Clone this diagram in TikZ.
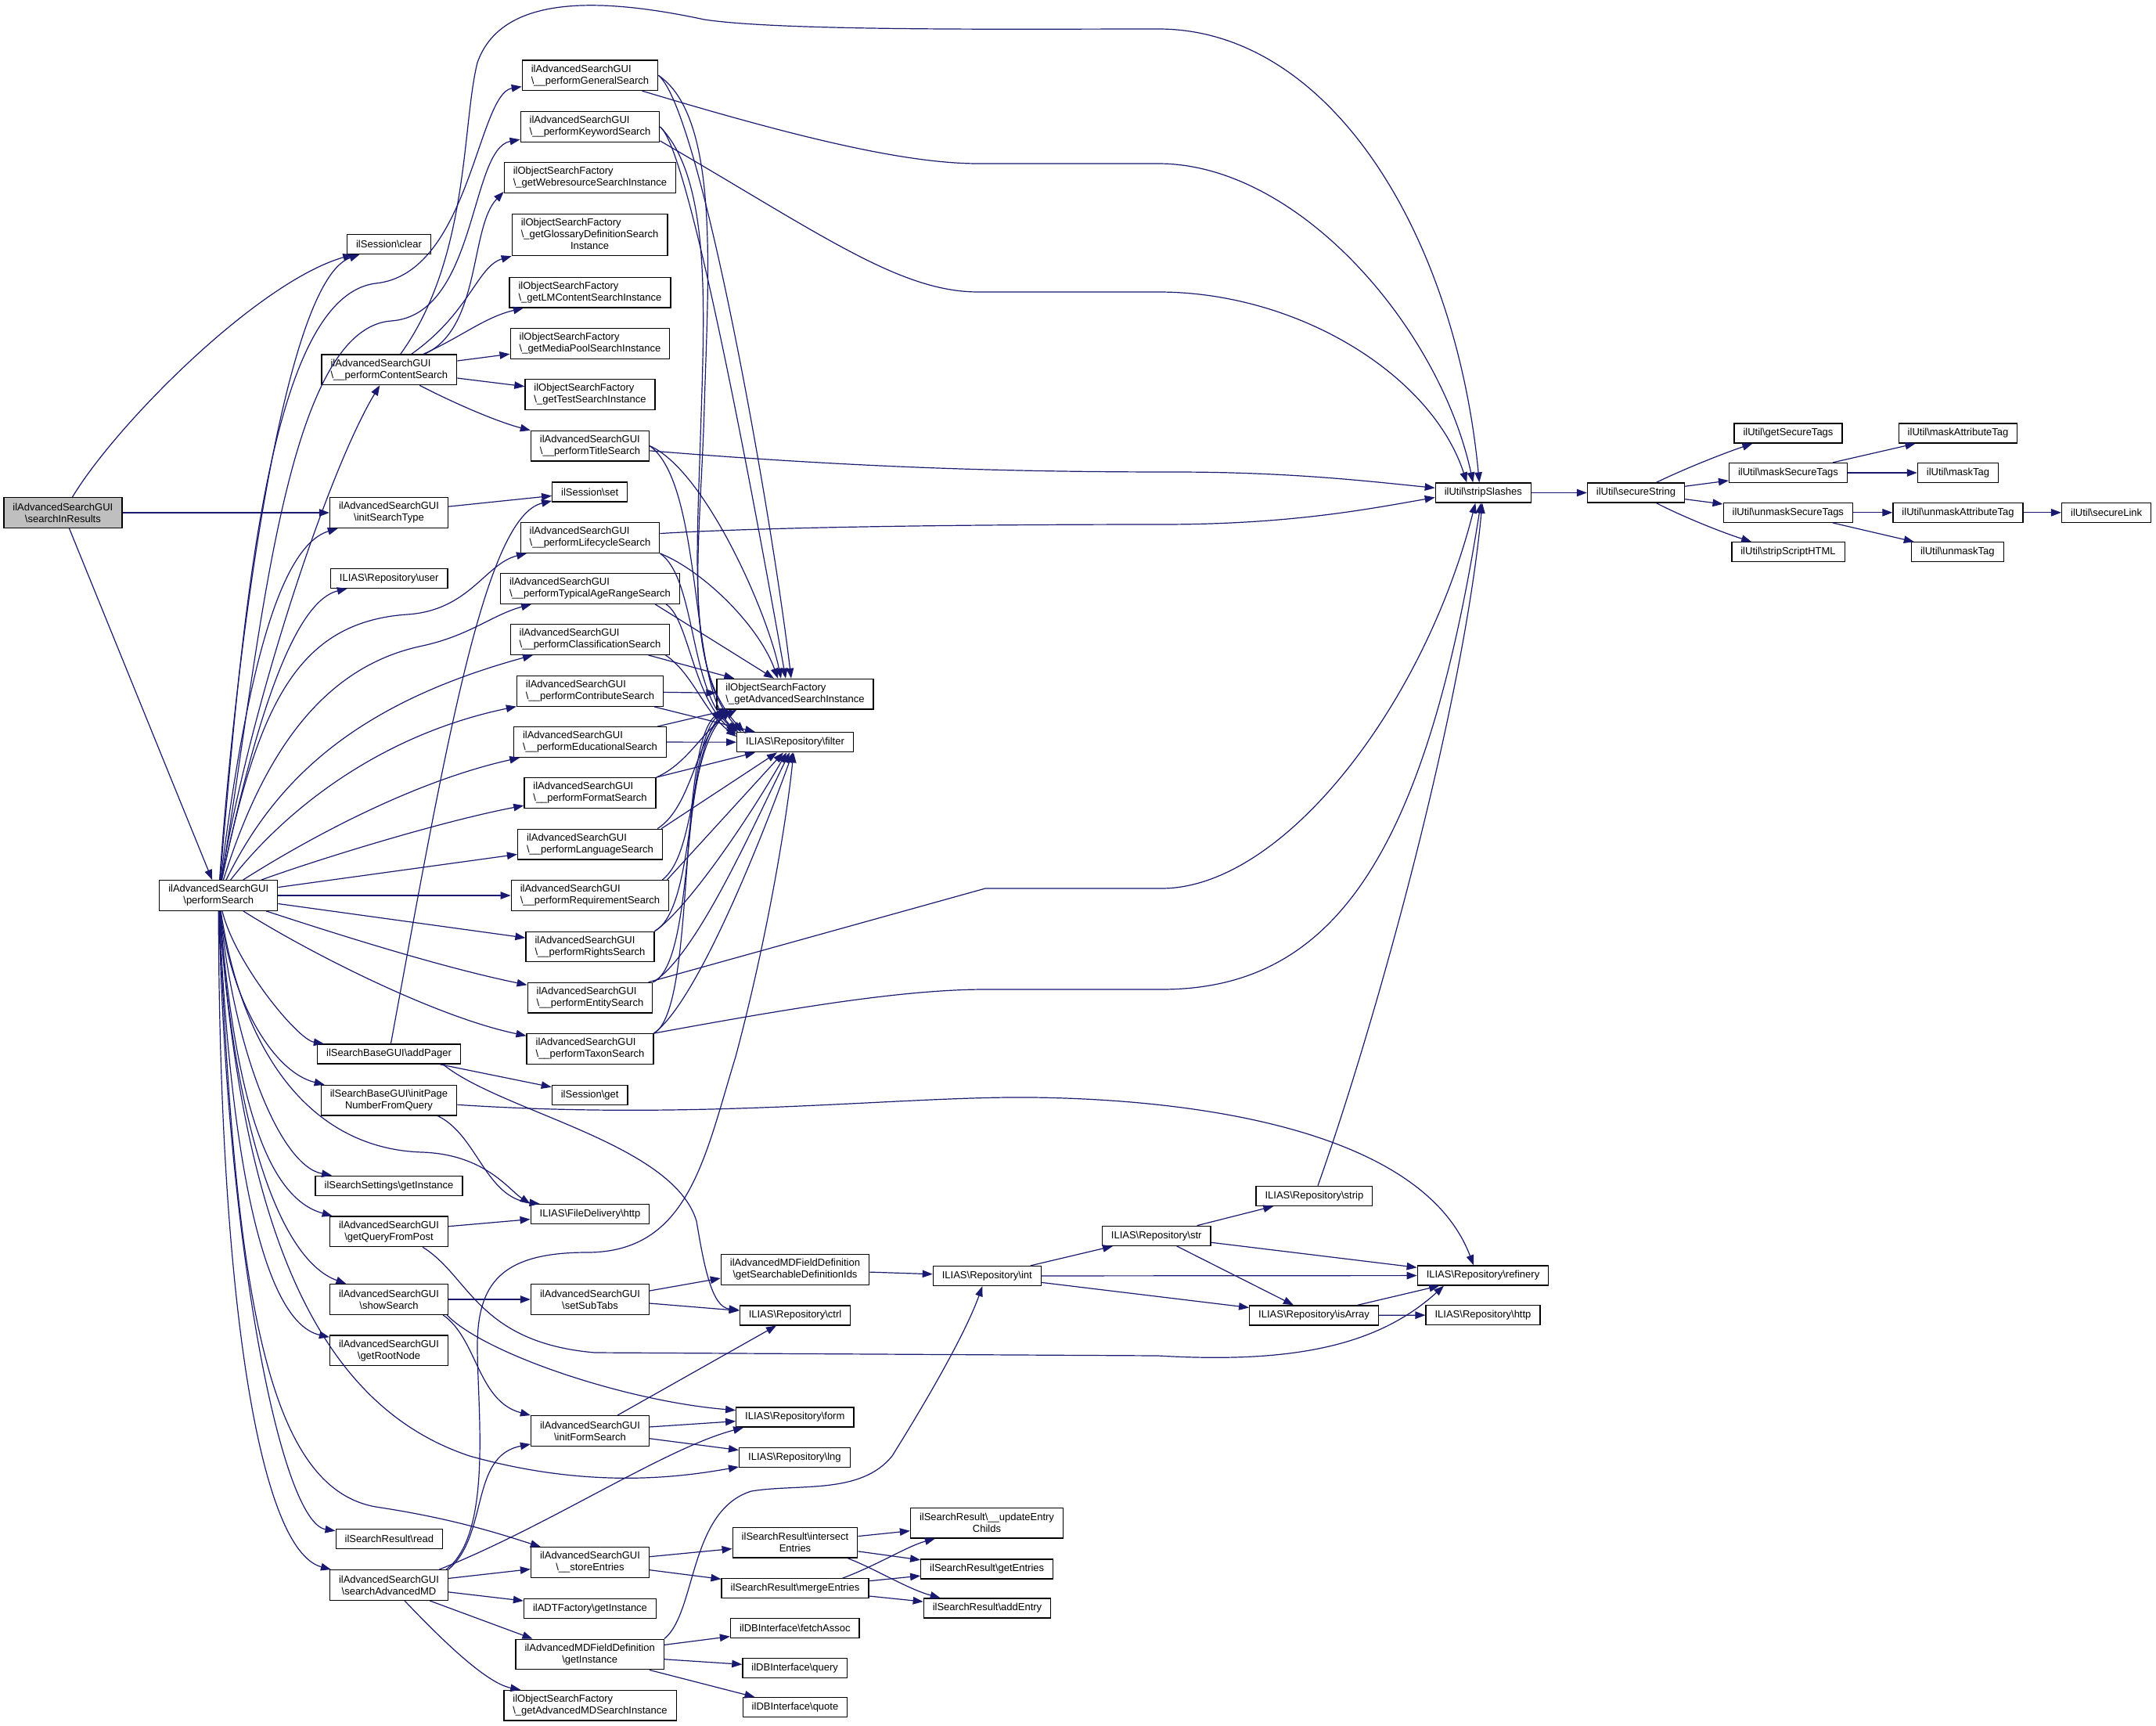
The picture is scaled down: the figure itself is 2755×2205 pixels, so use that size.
\documentclass[tikz,border=0pt]{standalone}
\usepackage{fontspec}
\setmainfont{Liberation Sans}
\usetikzlibrary{arrows.meta}
\definecolor{edgeblue}{HTML}{191970}
\definecolor{rootgray}{HTML}{BFBFBF}
\newcommand{\bsl}{\textbackslash}
\tikzset{
  fn/.style={draw=black, line width=1.3pt, fill=white, text=black, inner xsep=11.5pt, inner ysep=2pt,
    minimum height=25pt, font=\fontsize{13}{15}\selectfont},
  fnroot/.style={fn, fill=rootgray},
  twol/.style={minimum height=38.6pt},
  calls/.style={draw=edgeblue, line width=1.2pt, -{Triangle[length=13pt,width=9.5pt]}}
}
\begin{document}
\begin{tikzpicture}[x=1pt, y=-1pt]
\useasboundingbox (0,0) rectangle (2755,2205);
\fill[white] (0,0) rectangle (2755,2205);

\node[fnroot, twol, align=center] (root) at (80.4,655) {ilAdvancedSearchGUI\\\bsl searchInResults};
\node[fn, twol, align=center] (perfSearch) at (279.2,1144) {ilAdvancedSearchGUI\\\bsl performSearch};

\node[fn] (sessClear) at (497,312) {ilSession\bsl clear};
\node[fn, twol, align=left] (contentSrch) at (497.4,472.3) {ilAdvancedSearchGUI\\\bsl\_\_performContentSearch};
\node[fn, twol, align=center] (initType) at (497,655) {ilAdvancedSearchGUI\\\bsl initSearchType};
\node[fn] (repoUser) at (497.2,738.7) {ILIAS\bsl Repository\bsl user};
\node[fn] (addPager) at (497,1346.5) {ilSearchBaseGUI\bsl addPager};
\node[fn, twol, align=center] (initPage) at (497,1405.6) {ilSearchBaseGUI\bsl initPage\\NumberFromQuery};
\node[fn] (srchSettings) at (497,1514.7) {ilSearchSettings\bsl getInstance};
\node[fn, twol, align=center] (queryPost) at (497,1573.3) {ilAdvancedSearchGUI\\\bsl getQueryFromPost};
\node[fn, twol, align=center] (showSrch) at (497,1660) {ilAdvancedSearchGUI\\\bsl showSearch};
\node[fn, twol, align=center] (rootNode) at (497,1725.3) {ilAdvancedSearchGUI\\\bsl getRootNode};
\node[fn] (resRead) at (497.4,1966.3) {ilSearchResult\bsl read};
\node[fn, twol, align=center] (advMD) at (497,2025) {ilAdvancedSearchGUI\\\bsl searchAdvancedMD};

\foreach \nm/\yy/\txt in {generalSrch/96.2/General, keywordSrch/162/Keyword, titleSrch/569.6/Title,
  lifecycleSrch/687/Lifecycle, ageSrch/752/TypicalAgeRange, classSrch/817/Classification,
  contribSrch/883/Contribute, eduSrch/948/Educational, formatSrch/1013/Format, langSrch/1078.6/Language,
  reqSrch/1144/Requirement, rightsSrch/1209.5/Rights, entitySrch/1274.7/Entity, taxonSrch/1340/Taxon}
  \node[fn, twol, align=left] (\nm) at (754,\yy) {ilAdvancedSearchGUI\\\bsl\_\_perform\txt Search};
\foreach \nm/\yy/\txt in {webresInst/227/Webresource, lmInst/373.6/LMContent, mepInst/439/MediaPool, testInst/504/Test}
  \node[fn, twol, align=left] (\nm) at (754,\yy) {ilObjectSearchFactory\\\bsl\_get\txt SearchInstance};
\node[fn, minimum height=53.2pt] (glossInst) at (753.6,300) {\begin{tabular}{@{}l@{}}ilObjectSearchFactory\\\bsl\_getGlossaryDefinitionSearch\\\multicolumn{1}{@{}c@{}}{Instance}\end{tabular}};
\node[fn] (sessSet) at (753.7,628.4) {ilSession\bsl set};
\node[fn] (sessGet) at (753.7,1398.7) {ilSession\bsl get};
\node[fn] (fdHttp) at (754,1551) {ILIAS\bsl FileDelivery\bsl http};
\node[fn, twol, align=center] (subTabs) at (754,1660) {ilAdvancedSearchGUI\\\bsl setSubTabs};
\node[fn, twol, align=center] (initForm) at (754,1828) {ilAdvancedSearchGUI\\\bsl initFormSearch};
\node[fn, twol, align=center] (storeEnt) at (754,1996) {ilAdvancedSearchGUI\\\bsl\_\_storeEntries};
\node[fn] (adtInst) at (754,2055) {ilADTFactory\bsl getInstance};
\node[fn, twol, align=center] (mdfInst) at (753.7,2113.5) {ilAdvancedMDFieldDefinition\\\bsl getInstance};
\node[fn, twol, align=left] (mdSrchInst) at (754,2178.7) {ilObjectSearchFactory\\\bsl\_getAdvancedMDSearchInstance};

\node[fn, twol, align=left] (advSrchInst) at (1016,886.7) {ilObjectSearchFactory\\\bsl\_getAdvancedSearchInstance};
\node[fn] (repoFilter) at (1016,948.2) {ILIAS\bsl Repository\bsl filter};
\node[fn, twol, align=center] (searchableIds) at (1016,1622) {ilAdvancedMDFieldDefinition\\\bsl getSearchableDefinitionIds};
\node[fn] (repoCtrl) at (1016,1680.4) {ILIAS\bsl Repository\bsl ctrl};
\node[fn] (repoForm) at (1015.8,1810.6) {ILIAS\bsl Repository\bsl form};
\node[fn] (repoLng) at (1015.4,1861.7) {ILIAS\bsl Repository\bsl lng};
\node[fn, twol, align=center] (intersectEnt) at (1016,1970.8) {ilSearchResult\bsl intersect\\Entries};
\node[fn] (mergeEnt) at (1016,2029.3) {ilSearchResult\bsl mergeEntries};
\node[fn] (fetchAssoc) at (1015.8,2080) {ilDBInterface\bsl fetchAssoc};
\node[fn] (dbQuery) at (1015.7,2130.7) {ilDBInterface\bsl query};
\node[fn] (dbQuote) at (1016,2181.2) {ilDBInterface\bsl quote};

\node[fn] (repoInt) at (1261.3,1630) {ILIAS\bsl Repository\bsl int};
\node[fn, twol, align=center] (updateChilds) at (1261,1945.7) {ilSearchResult\bsl\_\_updateEntry\\Childs};
\node[fn] (getEntries) at (1261.2,2004.5) {ilSearchResult\bsl getEntries};
\node[fn] (addEntry) at (1261.5,2054.5) {ilSearchResult\bsl addEntry};
\node[fn] (repoStr) at (1477.7,1578.8) {ILIAS\bsl Repository\bsl str};
\node[fn] (repoStrip) at (1679.4,1527.8) {ILIAS\bsl Repository\bsl strip};
\node[fn] (repoIsArray) at (1679,1680.4) {ILIAS\bsl Repository\bsl isArray};
\node[fn] (repoRefinery) at (1895,1629.5) {ILIAS\bsl Repository\bsl refinery};
\node[fn] (repoHttp) at (1895,1680) {ILIAS\bsl Repository\bsl http};

\node[fn] (stripSlashes) at (1895.3,629.5) {ilUtil\bsl stripSlashes};
\node[fn] (secureString) at (2090.5,629.5) {ilUtil\bsl secureString};
\node[fn] (getSecTags) at (2285,553.5) {ilUtil\bsl getSecureTags};
\node[fn] (maskSecTags) at (2285,604) {ilUtil\bsl maskSecureTags};
\node[fn] (unmaskSecTags) at (2284.8,654.8) {ilUtil\bsl unmaskSecureTags};
\node[fn] (stripHTML) at (2285,705.3) {ilUtil\bsl stripScriptHTML};
\node[fn] (maskAttr) at (2502,553.5) {ilUtil\bsl maskAttributeTag};
\node[fn] (maskTag) at (2502,604) {ilUtil\bsl maskTag};
\node[fn] (unmaskAttr) at (2502,654.8) {ilUtil\bsl unmaskAttributeTag};
\node[fn] (unmaskTag) at (2501.3,705.3) {ilUtil\bsl unmaskTag};
\node[fn] (secureLink) at (2691.6,654.8) {ilUtil\bsl secureLink};

\draw[calls] (root) .. controls (150,540) and (330,360) .. (sessClear);
\draw[calls] (root) -- (initType);
\draw[calls] (root) -- (perfSearch);

\draw[calls] (perfSearch) .. controls (300,850) and (360,360) .. (sessClear);
\draw[calls] (perfSearch) .. controls (320,900) and (420,600) .. (contentSrch);
\draw[calls] (perfSearch) .. controls (310,800) and (340,380) .. (480,362) .. controls (600,350) and (610,120) .. (generalSrch);
\draw[calls] (perfSearch) .. controls (330,850) and (360,420) .. (500,410) .. controls (610,402) and (600,190) .. (keywordSrch);
\draw[calls] (perfSearch) .. controls (310,900) and (350,700) .. (initType);
\draw[calls] (perfSearch) .. controls (320,950) and (370,770) .. (repoUser);
\draw[calls] (perfSearch) .. controls (330,900) and (380,795) .. (520,785) .. controls (600,780) and (620,720) .. (lifecycleSrch);
\draw[calls] (perfSearch) .. controls (340,950) and (420,850) .. (540,825) .. controls (600,812) and (630,785) .. (ageSrch);
\draw[calls] (perfSearch) .. controls (350,1000) and (450,900) .. (classSrch);
\draw[calls] (perfSearch) .. controls (360,1040) and (480,940) .. (contribSrch);
\draw[calls] (perfSearch) .. controls (380,1080) and (520,1000) .. (eduSrch);
\draw[calls] (perfSearch) .. controls (400,1100) and (560,1050) .. (formatSrch);
\draw[calls] (perfSearch) -- (langSrch);
\draw[calls] (perfSearch) -- (reqSrch);
\draw[calls] (perfSearch) -- (rightsSrch);
\draw[calls] (perfSearch) .. controls (420,1190) and (560,1235) .. (entitySrch);
\draw[calls] (perfSearch) .. controls (400,1220) and (560,1300) .. (taxonSrch);
\draw[calls] (perfSearch) .. controls (300,1230) and (380,1328) .. (addPager);
\draw[calls] (perfSearch) .. controls (295,1280) and (350,1370) .. (initPage);
\draw[calls] (perfSearch) .. controls (300,1350) and (360,1490) .. (srchSettings);
\draw[calls] (perfSearch) .. controls (310,1350) and (400,1468) .. (540,1472) .. controls (620,1475) and (650,1520) .. (fdHttp.north west);
\draw[calls] (perfSearch) .. controls (300,1400) and (340,1530) .. (queryPost);
\draw[calls] (perfSearch) .. controls (300,1450) and (360,1610) .. (showSrch);
\draw[calls] (perfSearch) .. controls (295,1500) and (340,1690) .. (rootNode);
\draw[calls] (perfSearch) .. controls (310,1600) and (420,1800) .. (600,1860) .. controls (760,1905) and (880,1885) .. (repoLng);
\draw[calls] (perfSearch) .. controls (300,1650) and (340,1900) .. (480,1925) .. controls (580,1940) and (640,1960) .. (storeEnt);
\draw[calls] (perfSearch) .. controls (290,1600) and (360,1945) .. (resRead);
\draw[calls] (perfSearch) .. controls (280,1650) and (330,1980) .. (advMD);

\draw[calls] (contentSrch) .. controls (600,330) and (590,160) .. (610,80) .. controls (640,-5) and (760,-5) .. (900,25) .. controls (1000,40) and (1300,37) .. (1480,37) .. controls (1700,37) and (1860,300) .. ([xshift=-5pt]stripSlashes.north);
\draw[calls] (contentSrch) .. controls (615,420) and (600,290) .. ([yshift=2pt]webresInst.south west);
\draw[calls] (contentSrch) .. controls (600,400) and (610,340) .. (glossInst.south west);
\draw[calls] (contentSrch) .. controls (590,430) and (620,405) .. (lmInst);
\draw[calls] (contentSrch) -- (mepInst);
\draw[calls] (contentSrch) -- (testInst);
\draw[calls] (contentSrch) .. controls (590,520) and (640,540) .. (titleSrch);

\draw[calls] (generalSrch) .. controls (1000,170) and (1150,209) .. (1250,209) -- (1480,209) .. controls (1660,209) and (1840,420) .. ([xshift=-13pt]stripSlashes.north);
\draw[calls] ([yshift=2pt]keywordSrch.south east) .. controls (1050,300) and (1150,373) .. (1250,373) -- (1480,373) .. controls (1660,373) and (1830,480) .. ([xshift=-21pt]stripSlashes.north);
\draw[calls] (titleSrch) .. controls (1100,598) and (1300,603) .. (1500,603) .. controls (1650,603) and (1750,615) .. (stripSlashes);
\draw[calls] (lifecycleSrch) .. controls (1000,672) and (1300,670) .. (1484,670) .. controls (1650,670) and (1750,650) .. ([yshift=-6pt]stripSlashes.west);
\draw[calls] ([xshift=-6pt]entitySrch.north east) -- (1259,1135) -- (1484,1135) .. controls (1640,1135) and (1820,900) .. ([xshift=-10pt]stripSlashes.south);
\draw[calls] (taxonSrch.north east) .. controls (1000,1290) and (1150,1264) .. (1259,1264) -- (1484,1264) .. controls (1700,1264) and (1820,1100) .. ([xshift=-3pt]stripSlashes.south);
\draw[calls] (repoStrip) .. controls (1760,1300) and (1870,900) .. (stripSlashes);

\draw[calls] (generalSrch.east) .. controls (895,140) and (985,650) .. ([xshift=-5pt]advSrchInst.north);
\draw[calls] (generalSrch.east) .. controls (920,150) and (905,350) .. (900,520) .. controls (895,700) and (870,850) .. ([xshift=10pt]repoFilter.north west);
\draw[calls] (keywordSrch.east) .. controls (880,190) and (960,620) .. ([xshift=-12pt]advSrchInst.north);
\draw[calls] (keywordSrch.east) .. controls (910,230) and (900,400) .. (895,560) .. controls (890,720) and (880,860) .. ([xshift=6pt]repoFilter.north west);
\draw[calls] (titleSrch.east) .. controls (900,600) and (980,780) .. ([xshift=-18pt]advSrchInst.north);
\draw[calls] (titleSrch.east) .. controls (900,620) and (880,880) .. ([xshift=2pt]repoFilter.north west);
\draw[calls] (lifecycleSrch.south east) .. controls (900,730) and (970,800) .. ([xshift=-22pt]advSrchInst.north);
\draw[calls] (lifecycleSrch.south east) .. controls (890,740) and (880,880) .. (repoFilter.north west);
\draw[calls] ([xshift=-32pt]ageSrch.south east) -- ([xshift=-27pt]advSrchInst.north);
\draw[calls] ([xshift=-18pt]ageSrch.south east) .. controls (880,790) and (885,890) .. ([yshift=-3pt]repoFilter.north west);
\draw[calls] ([xshift=-28pt]classSrch.south east) -- ([xshift=23pt]advSrchInst.north west);
\draw[calls] ([xshift=-6pt]classSrch.south east) .. controls (885,860) and (900,910) .. ([yshift=-6pt]repoFilter.north west);
\draw[calls] (contribSrch) -- (advSrchInst);
\draw[calls] ([xshift=-12pt]contribSrch.south east) -- ([xshift=24pt]repoFilter.north west);
\draw[calls] (eduSrch) -- (repoFilter);
\draw[calls] ([xshift=-12pt]eduSrch.north east) -- ([xshift=16pt]advSrchInst.south west);
\draw[calls] (formatSrch.north east) -- ([xshift=24pt]repoFilter.south west);
\draw[calls] (formatSrch.north east) .. controls (880,975) and (900,930) .. ([xshift=26pt]advSrchInst.south west);
\draw[calls] ([xshift=-7pt]langSrch.north east) .. controls (885,1030) and (890,940) .. ([xshift=20pt]advSrchInst.south west);
\draw[calls] ([xshift=-2pt]langSrch.north east) -- ([xshift=52pt]repoFilter.south west);
\draw[calls] ([xshift=-9pt]reqSrch.north east) .. controls (890,1090) and (880,960) .. ([xshift=18pt]advSrchInst.south west);
\draw[calls] ([xshift=-3pt]reqSrch.north east) -- ([xshift=60pt]repoFilter.south west);
\draw[calls] (rightsSrch.north east) .. controls (890,1160) and (875,960) .. ([xshift=14pt]advSrchInst.south west);
\draw[calls] (rightsSrch.north east) .. controls (880,1160) and (960,1040) .. ([xshift=64pt]repoFilter.south west);
\draw[calls] (entitySrch.north east) .. controls (890,1230) and (870,960) .. ([xshift=10pt]advSrchInst.south west);
\draw[calls] (entitySrch.north east) .. controls (890,1220) and (960,1060) .. ([xshift=68pt]repoFilter.south west);
\draw[calls] (taxonSrch.north east) .. controls (890,1290) and (865,960) .. ([xshift=7pt]advSrchInst.south west);
\draw[calls] (taxonSrch.north east) .. controls (890,1280) and (970,1080) .. ([xshift=72pt]repoFilter.south west);

\draw[calls] (initType) -- (sessSet);
\draw[calls] (addPager) .. controls (570,950) and (620,660) .. (sessSet);
\draw[calls] (addPager) -- (sessGet);
\draw[calls] ([xshift=-23pt]addPager.south east) .. controls (640,1420) and (860,1460) .. (890,1560) .. controls (900,1620) and (910,1670) .. (repoCtrl);
\draw[calls] ([xshift=-25pt]initPage.south east) .. controls (610,1450) and (620,1530) .. ([xshift=12pt]fdHttp.north west);
\draw[calls] (initPage) .. controls (900,1432) and (1150,1400) .. (1320,1402) .. controls (1550,1405) and (1820,1450) .. ([xshift=-12pt]repoRefinery.north);
\draw[calls] (queryPost) -- (fdHttp);
\draw[calls] ([xshift=-33pt]queryPost.south east) .. controls (600,1630) and (610,1715) .. (760,1728) -- (1480,1732) .. controls (1650,1742) and (1760,1720) .. ([xshift=-50pt]repoRefinery.south);
\draw[calls] (showSrch) -- (subTabs);
\draw[calls] ([xshift=-7pt]showSrch.south east) .. controls (610,1710) and (610,1790) .. (initForm.north west);
\draw[calls] ([xshift=-2pt]showSrch.south east) .. controls (620,1730) and (800,1790) .. ([yshift=9pt]repoForm.west);
\draw[calls] ([yshift=11pt]subTabs.east) -- ([yshift=-11pt]searchableIds.west);
\draw[calls] ([yshift=-5pt]subTabs.east) -- ([yshift=6pt]repoCtrl.west);
\draw[calls] (searchableIds) -- (repoInt);
\draw[calls] (repoInt) -- (repoStr);
\draw[calls] (repoInt) -- (repoRefinery);
\draw[calls] (repoInt) -- (repoIsArray);
\draw[calls] (repoStr) -- (repoStrip);
\draw[calls] (repoStr) -- (repoRefinery);
\draw[calls] (repoStr) -- (repoIsArray);
\draw[calls] (repoIsArray) -- (repoRefinery);
\draw[calls] (repoIsArray) -- (repoHttp);
\draw[calls] ([xshift=35pt]initForm.north) -- ([xshift=-24pt]repoCtrl.south);
\draw[calls] (initForm) -- (repoForm);
\draw[calls] (initForm) -- (repoLng);

\draw[calls] ([xshift=-3pt]advMD.north east) .. controls (630,1960) and (610,1800) .. (610,1720) .. controls (610,1640) and (640,1600) .. (750,1600) .. controls (880,1600) and (900,1480) .. (940,1350) .. controls (980,1200) and (1005,1050) .. ([xshift=-2pt]repoFilter.south);
\draw[calls] (advMD.north east) .. controls (625,1960) and (600,1860) .. ([yshift=3pt]initForm.south west);
\draw[calls] ([xshift=-12pt]advMD.north east) .. controls (700,1950) and (850,1850) .. ([xshift=10pt]repoForm.south west);
\draw[calls] (advMD) -- (storeEnt);
\draw[calls] (advMD) -- (adtInst);
\draw[calls] ([xshift=-24pt]advMD.south east) -- ([xshift=22pt]mdfInst.north west);
\draw[calls] ([xshift=20pt]advMD.south) .. controls (560,2090) and (620,2150) .. ([xshift=22pt]mdSrchInst.north west);

\draw[calls] (storeEnt) -- (intersectEnt);
\draw[calls] (storeEnt) -- (mergeEnt);
\draw[calls] (intersectEnt) -- (updateChilds);
\draw[calls] (intersectEnt) -- (getEntries);
\draw[calls] ([xshift=-13pt]intersectEnt.south east) .. controls (1120,2005) and (1160,2030) .. ([xshift=22pt]addEntry.north west);
\draw[calls] ([xshift=-34pt]mergeEnt.north east) .. controls (1120,2000) and (1160,1975) .. ([xshift=32pt]updateChilds.south west);
\draw[calls] (mergeEnt) -- (getEntries);
\draw[calls] (mergeEnt) -- (addEntry);
\draw[calls] (mdfInst.north east) .. controls (890,2060) and (880,1930) .. (960,1905) .. controls (1020,1895) and (1100,1910) .. (1140,1860) .. controls (1190,1780) and (1235,1700) .. ([xshift=-6pt]repoInt.south);
\draw[calls] (mdfInst) -- (fetchAssoc);
\draw[calls] (mdfInst) -- (dbQuery);
\draw[calls] ([xshift=-19pt]mdfInst.south east) -- ([xshift=16pt]dbQuote.north west);

\draw[calls] (stripSlashes) -- (secureString);
\draw[calls] ([xshift=26pt]secureString.north) .. controls (2150,600) and (2200,580) .. ([xshift=24pt]getSecTags.south west);
\draw[calls] (secureString) -- (maskSecTags);
\draw[calls] (secureString) -- (unmaskSecTags);
\draw[calls] ([xshift=26pt]secureString.south) .. controls (2150,660) and (2200,680) .. ([xshift=26pt]stripHTML.north west);
\draw[calls] ([xshift=57pt]maskSecTags.north) -- ([xshift=22pt]maskAttr.south west);
\draw[calls] (maskSecTags) -- (maskTag);
\draw[calls] (unmaskSecTags) -- (unmaskAttr);
\draw[calls] ([xshift=57pt]unmaskSecTags.south) -- ([xshift=4pt]unmaskTag.north west);
\draw[calls] (unmaskAttr) -- (secureLink);
\end{tikzpicture}
\end{document}
